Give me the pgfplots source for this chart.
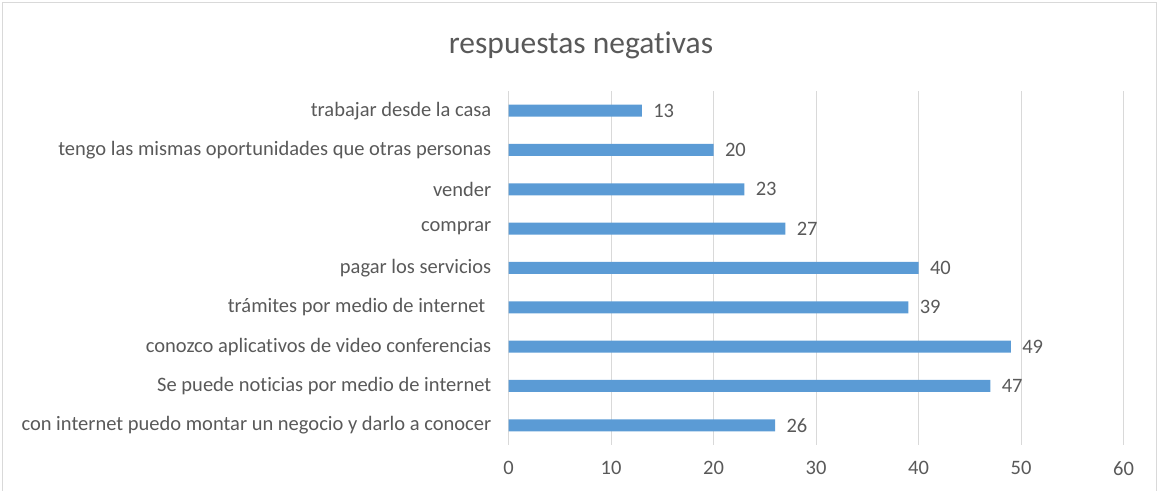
\documentclass[border=0pt]{standalone}
\usepackage{pgfplots}
\pgfplotsset{compat=1.18}
\usepackage{fontspec}
\setmainfont{Carlito}[Ligatures={NoCommon,NoRare}]
\definecolor{barblue}{HTML}{5B9BD5}
\definecolor{txtgray}{HTML}{595959}
\definecolor{gridgray}{HTML}{D9D9D9}
\definecolor{framegray}{HTML}{D9D9D9}

\begin{document}
\begin{tikzpicture}[x=1pt,y=1pt]
% chart frame (bottom edge lies outside the picture)
\draw[framegray, line width=1pt] (2,0) -- (2,488.5) -- (1156,488.5) -- (1156,0);
\path (0,0) rectangle (1158,491);
\node[txtgray, font=\fontsize{31.5}{36}\selectfont] at (581,446) {respuestas negativas};
\begin{axis}[
        at={(508.5pt,46pt)},
        anchor=south west,
        scale only axis,
        width=615pt,
        height=354pt,
        xbar,
        bar width=12pt,
        xmin=0, xmax=60,
        ymin=-0.5, ymax=8.5,
        xtick={0,10,...,60},
        ytick={0,...,8},
        yticklabels={
            con internet puedo montar un negocio y darlo a conocer,
            Se puede noticias por medio de internet,
            conozco aplicativos de video conferencias,
            {trámites por medio de internet\kern6pt},
            pagar los servicios,
            comprar,
            vender,
            tengo las mismas oportunidades que otras personas,
            trabajar desde la casa},
        axis line style={draw=none},
        major tick length=0pt,
        xmajorgrids=true,
        grid style={gridgray, line width=0.8pt},
        tick label style={txtgray, font=\fontsize{20.5}{24}\selectfont},
        /pgf/number format/assume math mode=true,
        yticklabel style={inner sep=0pt, xshift=-17pt},
        xticklabel style={inner sep=0pt, yshift=-16pt},
        nodes near coords,
        every node near coord/.append style={txtgray, font=\fontsize{20.5}{24}\selectfont, anchor=west, xshift=8pt},
    ]
\addplot[fill=barblue, draw=none] coordinates {
    (26,0) (47,1) (49,2) (39,3) (40,4) (27,5) (23,6) (20,7) (13,8)};
\end{axis}
\end{tikzpicture}
\end{document}
